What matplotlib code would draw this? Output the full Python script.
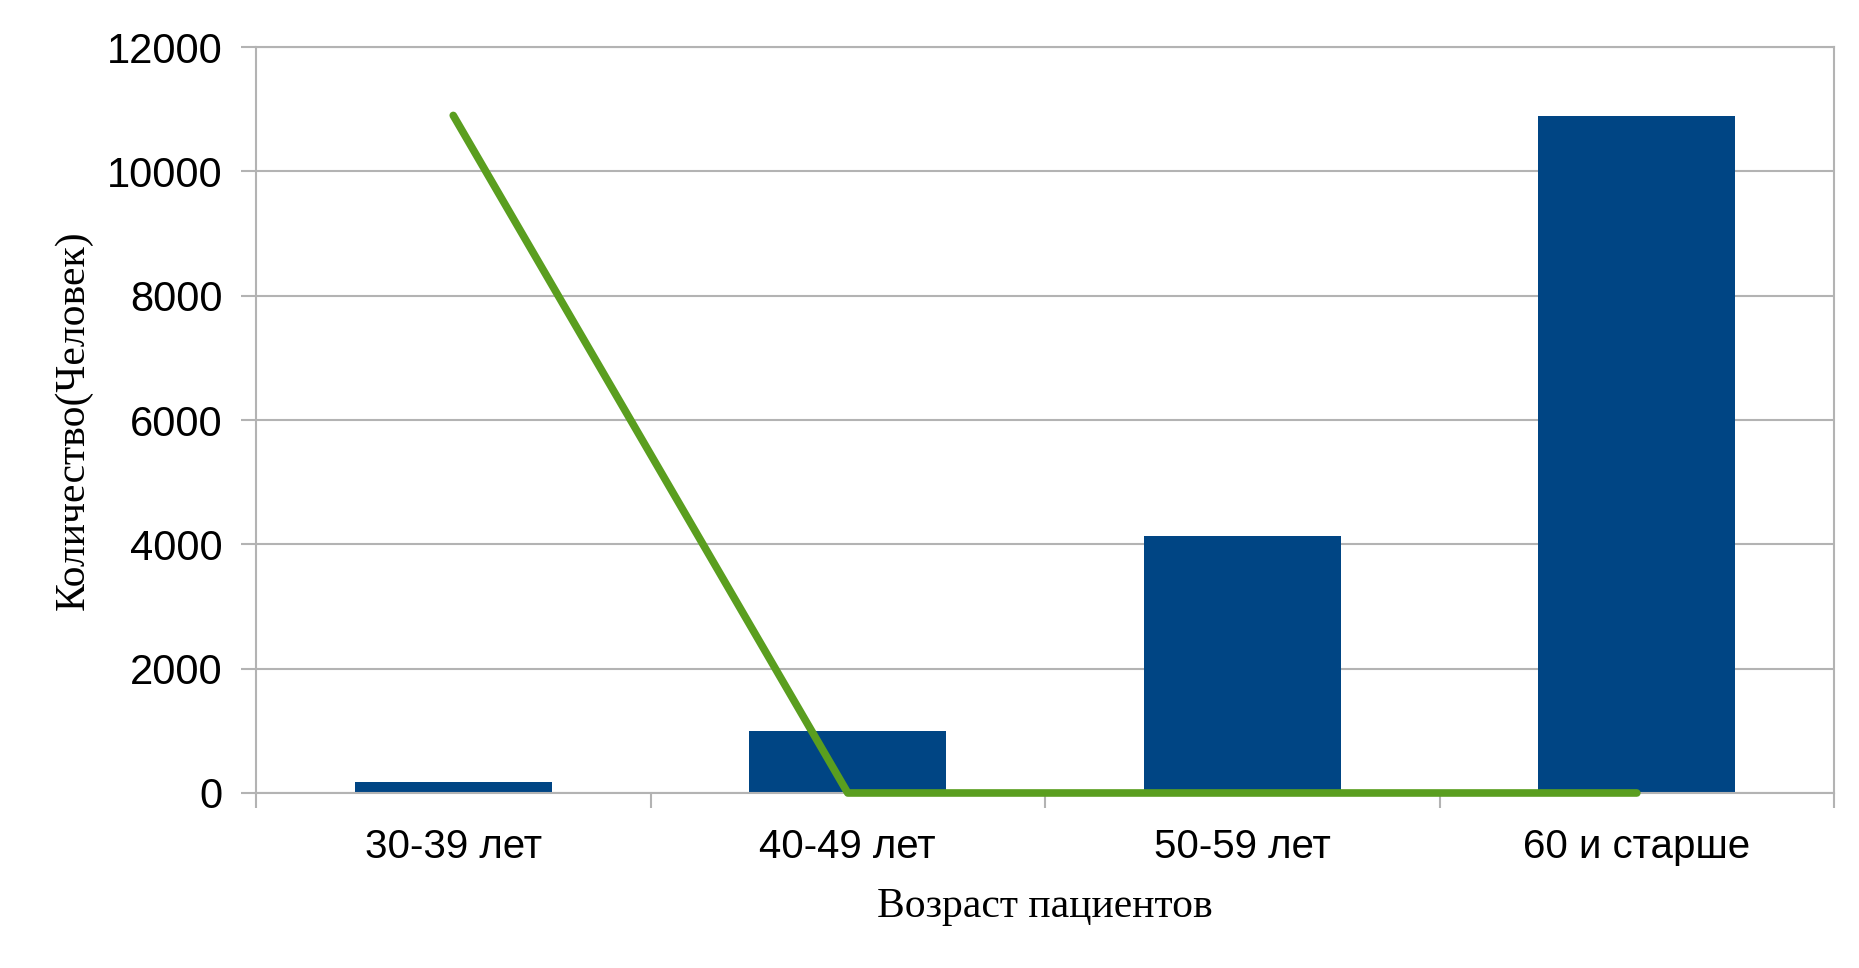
import matplotlib
matplotlib.use("Agg")
import matplotlib.pyplot as plt
import numpy as np

categories = ["30-39 лет", "40-49 лет", "50-59 лет", "60 и старше"]
bar_values = [180, 990, 4140, 10890]
line_values = [10900, 0, 0, 0]
yticks = [0, 2000, 4000, 6000, 8000, 10000, 12000]

fig = plt.figure(figsize=(18.59, 9.68), dpi=100)
ax = fig.add_axes([0.1377, 0.1808, 0.9866 - 0.1377, 0.9514 - 0.1808])

x = np.arange(len(categories))
ax.bar(x, bar_values, width=0.5, color="#004584", zorder=2)
ax.plot(x, line_values, color="#5a9e1f", linewidth=5.5, solid_capstyle="round",
        solid_joinstyle="round", zorder=3, clip_on=False)

ax.set_xlim(-0.5, len(categories) - 0.5)
ax.set_ylim(0, 12000)
ax.set_yticks(yticks)
ax.set_yticklabels([str(v) for v in yticks], fontsize=30, family="Liberation Sans")
ax.yaxis.grid(True, color="#b3b3b3", linewidth=1.5, zorder=0)
ax.set_axisbelow(True)

ax.set_xticks(x)
ax.set_xticklabels(categories, fontsize=29, family="Liberation Sans")
ax.tick_params(axis="x", length=0, pad=25)
ax.set_xticks(np.arange(len(categories) + 1) - 0.5, minor=True)
ax.tick_params(axis="x", which="minor", length=11, width=1.5, color="#b3b3b3")
ax.tick_params(axis="y", length=11, width=1.5, color="#b3b3b3", pad=13)

for s in ax.spines.values():
    s.set_color("#b3b3b3")
    s.set_linewidth(1.5)

ax.set_xlabel("Возраст пациентов", fontsize=30, family="Liberation Serif", labelpad=16)
ax.set_ylabel("Количество(Человек)", fontsize=30, family="Liberation Serif", labelpad=10)

fig.savefig("out.png", dpi=100, facecolor="white")
